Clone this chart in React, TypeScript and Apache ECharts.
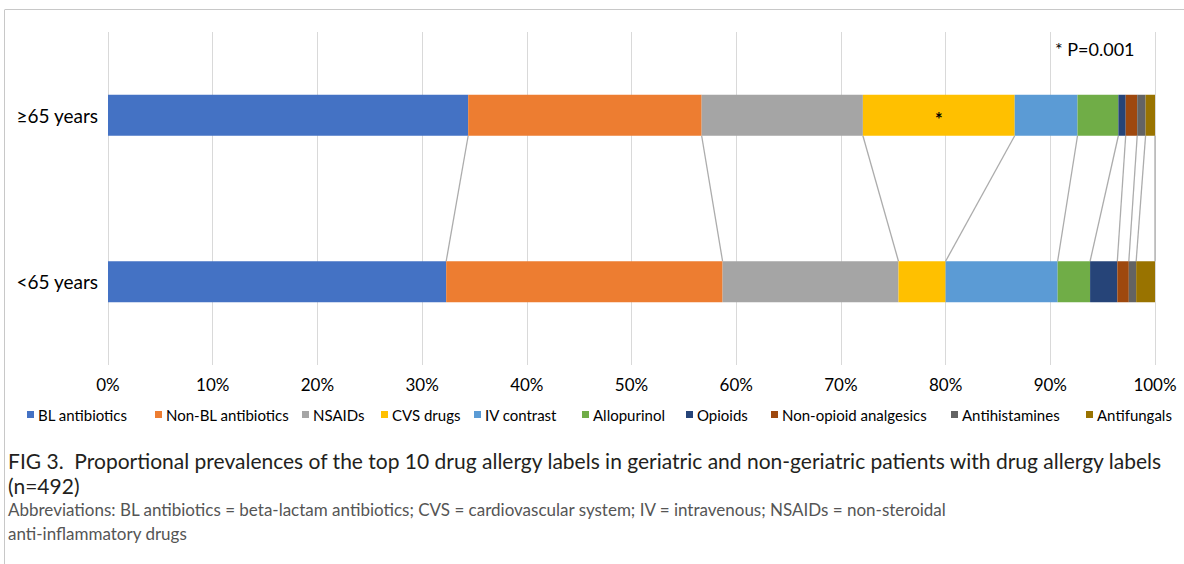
import React, { useEffect, useRef } from "react";
import * as echarts from "echarts";

const categories = ["≥65 years", "<65 years"];
const seriesNames = [
  "BL antibiotics",
  "Non-BL antibiotics",
  "NSAIDs",
  "CVS drugs",
  "IV contrast",
  "Allopurinol",
  "Opioids",
  "Non-opioid analgesics",
  "Antihistamines",
  "Antifungals",
];
const ge65Values = [34.4, 22.3, 15.4, 14.5, 6.0, 3.9, 0.7, 1.1, 0.8, 0.9];
const lt65Values = [32.3, 26.4, 16.8, 4.5, 10.7, 3.1, 2.6, 1.1, 0.7, 1.8];
const colors = [
  "#4472C4",
  "#ED7D31",
  "#A5A5A5",
  "#FFC000",
  "#5B9BD5",
  "#70AD47",
  "#264478",
  "#9E480E",
  "#636363",
  "#997300",
];
const starredSeries = "CVS drugs";
const xTicks = [0, 10, 20, 30, 40, 50, 60, 70, 80, 90, 100];
const legendLeft = [27, 155, 302, 381, 474, 582, 686, 771, 951, 1086];

const FONT = "Lato, 'Open Sans', sans-serif";

export default function App() {
  const ref = useRef<HTMLDivElement>(null);
  useEffect(() => {
    document.body.style.margin = "0";
    const chart = echarts.init(ref.current!, null, { renderer: "svg" });

    const cumTop: number[] = [];
    const cumBottom: number[] = [];
    let a = 0;
    let b = 0;
    for (let i = 0; i < seriesNames.length; i++) {
      a += ge65Values[i];
      b += lt65Values[i];
      cumTop.push(a);
      cumBottom.push(b);
    }
    const barW = 41;

    const barSeries = seriesNames.map((name, i) => ({
      name,
      type: "bar",
      stack: "total",
      barWidth: barW,
      itemStyle: { color: colors[i] },
      data: [
        name === starredSeries
          ? {
              value: ge65Values[i],
              label: {
                show: true,
                formatter: "*",
                position: "inside",
                color: "#000",
                fontSize: 18,
                fontWeight: "bold",
                fontFamily: FONT,
                offset: [0, 4],
              },
            }
          : ge65Values[i],
        lt65Values[i],
      ],
    }));

    const linkSeries = {
      type: "custom",
      name: "links",
      silent: true,
      z: 1,
      encode: { x: 0, y: 2 },
      data: cumTop.map((t, i) => [t, cumBottom[i], 0]),
      renderItem: (params: any, api: any) => {
        const p1 = api.coord([api.value(0), 0]);
        const p2 = api.coord([api.value(1), 1]);
        return {
          type: "line",
          shape: { x1: p1[0], y1: p1[1] + barW / 2, x2: p2[0], y2: p2[1] - barW / 2 },
          style: { stroke: "#acacac", lineWidth: 1.3 },
        };
      },
    };

    const legends = seriesNames.map((name, i) => ({
      data: [name],
      left: legendLeft[i],
      top: 407,
      padding: 0,
      itemWidth: 7,
      itemHeight: 7,
      icon: "rect",
      textStyle: { fontSize: 15, color: "#000", fontFamily: FONT, padding: [0, 0, 0, -1] },
    }));

    chart.setOption({
      animation: false,
      textStyle: { fontFamily: FONT },
      grid: { left: 108, right: 29, top: 32, height: 333 },
      legend: legends,
      xAxis: {
        type: "value",
        min: xTicks[0],
        max: xTicks[xTicks.length - 1],
        interval: 10,
        axisLine: { show: false },
        axisTick: { show: false },
        splitLine: { lineStyle: { color: "#d9d9d9", width: 1 } },
        axisLabel: {
          formatter: "{value}%",
          fontSize: 17,
          color: "#000",
          margin: 11,
          fontFamily: FONT,
        },
      },
      yAxis: {
        type: "category",
        data: categories,
        inverse: true,
        axisLine: { show: false },
        axisTick: { show: false },
        axisLabel: { fontSize: 19, color: "#000", margin: 10, fontFamily: FONT },
      },
      series: [...barSeries, linkSeries],
      graphic: [
        {
          type: "line",
          shape: { x1: 5, y1: 9.5, x2: 1184, y2: 9.5 },
          style: { stroke: "#c8c8c8", lineWidth: 1 },
        },
        {
          type: "line",
          shape: { x1: 4.5, y1: 9.5, x2: 4.5, y2: 564 },
          style: { stroke: "#c8c8c8", lineWidth: 1 },
        },
        {
          type: "text",
          left: 1055,
          top: 40,
          style: { text: "* P=0.001", fontSize: 18, fill: "#000", fontFamily: FONT },
        },
        {
          type: "text",
          left: 8,
          top: 450,
          style: {
            text:
              "FIG 3.  Proportional prevalences of the top 10 drug allergy labels in geriatric and non-geriatric patients with drug allergy labels",
            fontSize: 21,
            fill: "#231f20",
            fontFamily: FONT,
          },
        },
        {
          type: "text",
          left: 8,
          top: 475,
          style: { text: "(n=492)", fontSize: 21, fill: "#231f20", fontFamily: FONT },
        },
        {
          type: "text",
          left: 8,
          top: 501,
          style: {
            text:
              "Abbreviations: BL antibiotics = beta-lactam antibiotics; CVS = cardiovascular system; IV = intravenous; NSAIDs = non-steroidal",
            fontSize: 17,
            fill: "#555555",
            fontFamily: FONT,
          },
        },
        {
          type: "text",
          left: 8,
          top: 525,
          style: { text: "anti-inflammatory drugs", fontSize: 17, fill: "#555555", fontFamily: FONT },
        },
      ],
    });
    return () => chart.dispose();
  }, []);
  return <div ref={ref} style={{ width: 1184, height: 564 }} />;
}
